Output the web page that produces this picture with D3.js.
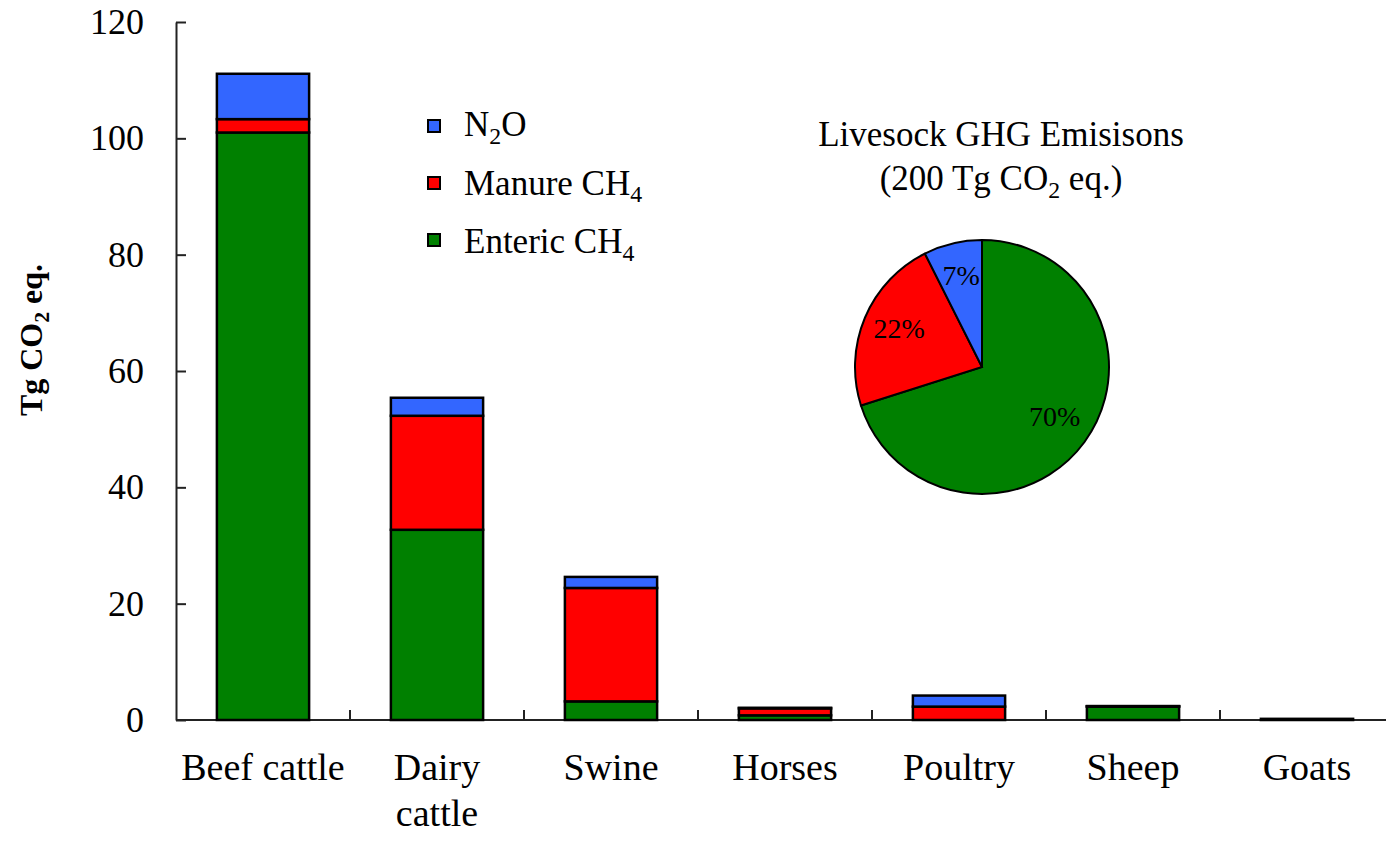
<!DOCTYPE html>
<html>
<head>
<meta charset="utf-8">
<script src="https://cdn.jsdelivr.net/npm/d3@7"></script>
<style>
body { margin: 0; background: #fff; }
text { font-family: "Liberation Serif", "Times New Roman", serif; fill: #000; }
</style>
</head>
<body>
<script>
// data (Tg CO2 eq.)
var categories = ["Beef cattle", "Dairy cattle", "Swine", "Horses", "Poultry", "Sheep", "Goats"];
var tickLabels = [["Beef cattle"], ["Dairy", "cattle"], ["Swine"], ["Horses"], ["Poultry"], ["Sheep"], ["Goats"]];
var enteric = [101.0, 32.7, 3.2, 0.8, 0.0, 2.3, 0.2];
var manure = [2.3, 19.6, 19.5, 1.2, 2.3, 0.05, 0.0];
var n2o = [7.8, 3.1, 1.9, 0.1, 1.9, 0.05, 0.0];
var yTicks = [0, 20, 40, 60, 80, 100, 120];

var seriesKeys = ["enteric", "manure", "n2o"];
var colors = { enteric: "#008000", manure: "#ff0000", n2o: "#3366ff" };
// legend labels, [text, isSubscript]
var legendLabels = {
  n2o: [["N", 0], ["2", 1], ["O", 0]],
  manure: [["Manure CH", 0], ["4", 1]],
  enteric: [["Enteric CH", 0], ["4", 1]]
};
var legendOrder = ["n2o", "manure", "enteric"];

var width = 1386, height = 842;
var svg = d3.select("body").append("svg")
    .attr("width", width)
    .attr("height", height);

// text with subscripts: subscript tspans go down, the next normal one goes back up
function subText(sel, parts, size) {
  var down = false;
  parts.forEach(function(p) {
    var t = sel.append("tspan").text(p[0]);
    if (p[1]) {
      t.attr("font-size", size * 0.68).attr("dy", size * 0.22);
      down = true;
    } else if (down) {
      t.attr("dy", -size * 0.22);
      down = false;
    }
  });
}

var rows = categories.map(function(c, i) {
  return { cat: c, enteric: enteric[i], manure: manure[i], n2o: n2o[i] };
});

var x = d3.scaleBand()
    .domain(categories)
    .range([176, 176 + 7 * 174])
    .paddingInner(0.47)
    .paddingOuter(0.235);

var y = d3.scaleLinear()
    .domain([0, 120])
    .range([720, 22]);

// y axis, ticks pointing inward
var yAxis = svg.append("g")
    .attr("transform", "translate(" + x.range()[0] + ",0)")
    .call(d3.axisLeft(y).tickValues(yTicks).tickSize(-10).tickSizeOuter(0).tickPadding(32));
yAxis.select(".domain").attr("stroke", "#222").attr("stroke-width", 2);
yAxis.selectAll(".tick line").attr("stroke", "#222").attr("stroke-width", 2);
yAxis.selectAll(".tick text").attr("font-size", 36).attr("font-family", "Liberation Serif, serif").attr("fill", "#000");

// x axis: baseline with ticks between categories
var x0 = x.range()[0];
svg.append("line")
    .attr("x1", x0).attr("x2", x.range()[1])
    .attr("y1", y(0)).attr("y2", y(0))
    .attr("stroke", "#222").attr("stroke-width", 2);
svg.selectAll(".xtick")
  .data(d3.range(1, categories.length + 1))
  .enter().append("line")
    .attr("class", "xtick")
    .attr("x1", function(i) { return x0 + i * x.step(); })
    .attr("x2", function(i) { return x0 + i * x.step(); })
    .attr("y1", y(0)).attr("y2", y(0) - 10)
    .attr("stroke", "#222").attr("stroke-width", 2);

// category labels
svg.selectAll(".xlabel")
  .data(categories)
  .enter().append("text")
    .attr("class", "xlabel")
    .attr("text-anchor", "middle")
    .attr("font-size", 38)
    .attr("x", function(d) { return x(d) + x.bandwidth() / 2; })
    .attr("y", 780)
    .each(function(d, i) {
      var t = d3.select(this);
      tickLabels[i].forEach(function(line, j) {
        t.append("tspan")
          .attr("x", x(d) + x.bandwidth() / 2)
          .attr("dy", j === 0 ? 0 : 46)
          .text(line);
      });
    });

// y label
var ylab = svg.append("text")
    .attr("transform", "translate(42,340) rotate(-90)")
    .attr("text-anchor", "middle")
    .attr("font-size", 32)
    .attr("font-weight", "bold");
subText(ylab, [["Tg CO", 0], ["2", 1], [" eq.", 0]], 32);

// stacked bars
var stacked = d3.stack().keys(seriesKeys)(rows);
svg.selectAll(".series")
  .data(stacked)
  .enter().append("g")
    .attr("class", "series")
    .attr("fill", function(d) { return colors[d.key]; })
  .selectAll("rect")
  .data(function(d) { return d; })
  .enter().append("rect")
    .attr("x", function(d) { return x(d.data.cat); })
    .attr("width", x.bandwidth())
    .attr("y", function(d) { return y(d[1]); })
    .attr("height", function(d) { return y(d[0]) - y(d[1]); })
    .attr("stroke", "#000")
    .attr("stroke-width", 2.5);

// legend
var legend = svg.append("g").attr("transform", "translate(428,0)");
legendOrder.forEach(function(k, i) {
  var ly = 126 + i * 57;
  legend.append("rect")
    .attr("x", 0).attr("y", ly - 6)
    .attr("width", 12).attr("height", 12)
    .attr("fill", colors[k])
    .attr("stroke", "#000").attr("stroke-width", 2);
  var t = legend.append("text")
    .attr("x", 36).attr("y", ly + 10 + i * 1.5)
    .attr("font-size", 35);
  subText(t, legendLabels[k], 35);
});

// pie of the totals
var pieValues = seriesKeys.map(function(k) {
  return d3.sum(rows, function(r) { return r[k]; });
});
var pieTotal = d3.sum(pieValues);
var cx = 982, cy = 367, r = 127;

svg.append("text")
    .attr("x", 1001).attr("y", 146)
    .attr("text-anchor", "middle")
    .attr("font-size", 35)
    .text("Livesock GHG Emisisons");
var title2 = svg.append("text")
    .attr("x", 1001).attr("y", 190)
    .attr("text-anchor", "middle")
    .attr("font-size", 35);
subText(title2, [["(" + d3.format(".0f")(pieTotal) + " Tg CO", 0], ["2", 1], [" eq.)", 0]], 35);

var pie = d3.pie().sort(null).value(function(d) { return d.v; });
var arcs = pie(seriesKeys.map(function(k, i) { return { key: k, v: pieValues[i] }; }));
var arc = d3.arc().innerRadius(0).outerRadius(r);
var labelArc = d3.arc().innerRadius(90).outerRadius(90);
var pg = svg.append("g").attr("transform", "translate(" + cx + "," + cy + ")");
pg.selectAll("path")
  .data(arcs)
  .enter().append("path")
    .attr("d", arc)
    .attr("fill", function(d) { return colors[d.data.key]; })
    .attr("stroke", "#000")
    .attr("stroke-width", 2);
var pct = function(v) { return Math.floor(v / pieTotal * 100) + "%"; };
pg.selectAll(".plabel")
  .data(arcs)
  .enter().append("text")
    .attr("class", "plabel")
    .attr("text-anchor", "middle")
    .attr("dominant-baseline", "central")
    .attr("font-size", 28)
    .attr("transform", function(d) {
      var c = labelArc.centroid(d);
      return "translate(" + c[0] + "," + (c[1] - 4) + ")";
    })
    .text(function(d) { return pct(d.data.v); });
</script>
</body>
</html>
